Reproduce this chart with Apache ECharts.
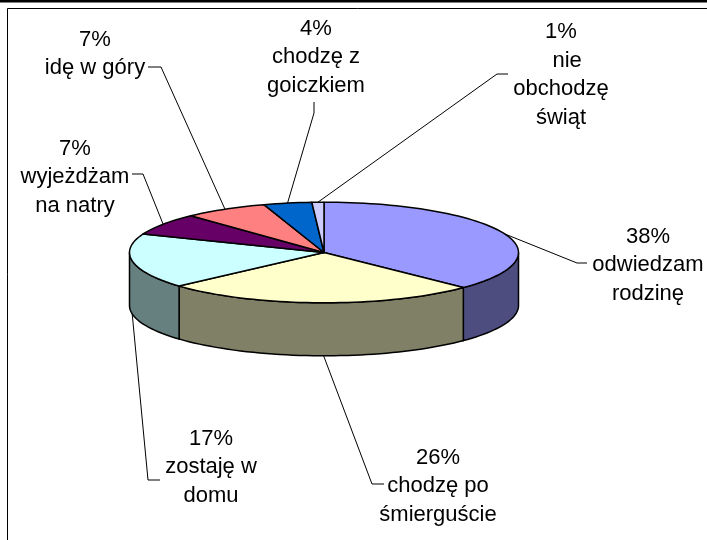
<!DOCTYPE html>
<html>
<head>
<meta charset="utf-8">
<style>
  html, body { margin: 0; padding: 0; background: #fff; }
  #main { width: 707px; height: 540px; }
</style>
<script src="https://cdn.jsdelivr.net/npm/echarts@6/dist/echarts.min.js"></script>
</head>
<body>
<div id="main"></div>
<script>
const categories = [
  "odwiedzam\nrodzinę",
  "chodzę po\nśmierguście",
  "zostaję w\ndomu",
  "wyjeżdżam\nna natry",
  "idę w góry",
  "chodzę z\ngoiczkiem",
  "  nie\nobchodzę\nświąt",
];
const values = [38, 26, 17, 7, 7, 4, 1];
const topColors = ["#9999FF", "#FFFFCC", "#CCFFFF", "#660066", "#FF8080", "#0066CC", "#CCCCFF"];
const sideColors = ["#4D4D80", "#808066", "#668080", "#330033", "#804040", "#003366", "#666680"];

// label centre, leader elbow and leader end, per slice
const labelPos = [[648, 265], [438, 486], [211, 467], [75, 177], [95, 54], [316, 57], [561, 75]];
const leaderElbow = [[577, 263], [372, 484], [148, 480], [143, 174], [161, 67], [314, 113], [497, 74]];
const leaderEnd = [[587, 263], [384, 484], [160, 480], [132, 174], [148, 67], [314, 102], [508, 74]];

const cx = 324, cy = 252.5, rx = 194.5, ry = 50.3, depth = 53;
const total = values.reduce((a, b) => a + b, 0);

// start and end angle of each slice in degrees
let cum = 0;
const sliceData = values.map((v, i) => {
  const start = (cum / total) * 360;
  cum += v;
  return { value: [i, start, (cum / total) * 360] };
});

function rimPoint(deg, dy) {
  // the tilted view pulls the front of the pie round by a few degrees
  const view = deg > 90 && deg < 270 ? 3.5 * Math.sin(((deg - 90) * Math.PI) / 180) : 0;
  const r = ((deg - view) * Math.PI) / 180;
  return [cx + rx * Math.sin(r), cy - ry * Math.cos(r) + (dy || 0)];
}

function arcPoints(a0, a1, dy) {
  const pts = [];
  const n = Math.max(2, Math.ceil(Math.abs(a1 - a0) / 2));
  for (let k = 0; k <= n; k++) {
    pts.push(rimPoint(a0 + ((a1 - a0) * k) / n, dy));
  }
  return pts;
}

function renderSide(params, api) {
  const i = api.value(0);
  // only the front half of the rim can be seen
  const a0 = Math.max(api.value(1), 90);
  const a1 = Math.min(api.value(2), 270);
  if (a1 <= a0) return null;
  const points = arcPoints(a0, a1, 0).concat(arcPoints(a1, a0, depth));
  return {
    type: "polygon",
    shape: { points: points },
    style: { fill: sideColors[i], stroke: "#000", lineWidth: 1.5 },
  };
}

function renderTop(params, api) {
  const i = api.value(0);
  const points = [[cx, cy]].concat(arcPoints(api.value(1), api.value(2), 0));
  return {
    type: "polygon",
    shape: { points: points },
    style: { fill: topColors[i], stroke: "#000", lineWidth: 1.5, lineJoin: "round" },
  };
}

function renderLabel(params, api) {
  const i = api.value(0);
  const mid = (api.value(1) + api.value(2)) / 2;
  // leaders of front slices start at the bottom edge of the wall
  const dy = mid > 90 && mid < 270 ? depth : 0;
  return {
    type: "group",
    children: [
      {
        type: "polyline",
        shape: { points: [rimPoint(mid, dy), leaderElbow[i], leaderEnd[i]] },
        style: { fill: null, stroke: "#000", lineWidth: 1 },
      },
      {
        type: "text",
        style: {
          x: labelPos[i][0],
          y: labelPos[i][1],
          text: values[i] + "%\n" + categories[i],
          align: "center",
          verticalAlign: "middle",
          fill: "#000",
          fontFamily: "Liberation Sans",
          fontSize: 22,
          lineHeight: 28.5,
        },
      },
    ],
  };
}

const myChart = echarts.init(document.getElementById("main"));
myChart.setOption({
  backgroundColor: "#fff",
  animation: false,
  tooltip: { show: false },
  graphic: [
    { type: "rect", shape: { x: 0, y: 0, width: 707, height: 2.5 }, style: { fill: "#000" } },
    { type: "line", shape: { x1: 7.5, y1: 8.5, x2: 707, y2: 8.5 }, style: { stroke: "#000", lineWidth: 1 } },
    { type: "line", shape: { x1: 7.5, y1: 8.5, x2: 7.5, y2: 540 }, style: { stroke: "#000", lineWidth: 1 } },
  ],
  series: [
    { type: "custom", coordinateSystem: "none", silent: true, z: 2, data: sliceData, renderItem: renderLabel },
    { type: "custom", coordinateSystem: "none", silent: true, z: 3, data: sliceData, renderItem: renderSide },
    { type: "custom", coordinateSystem: "none", silent: true, z: 4, data: sliceData, renderItem: renderTop },
  ],
});
</script>
</body>
</html>
